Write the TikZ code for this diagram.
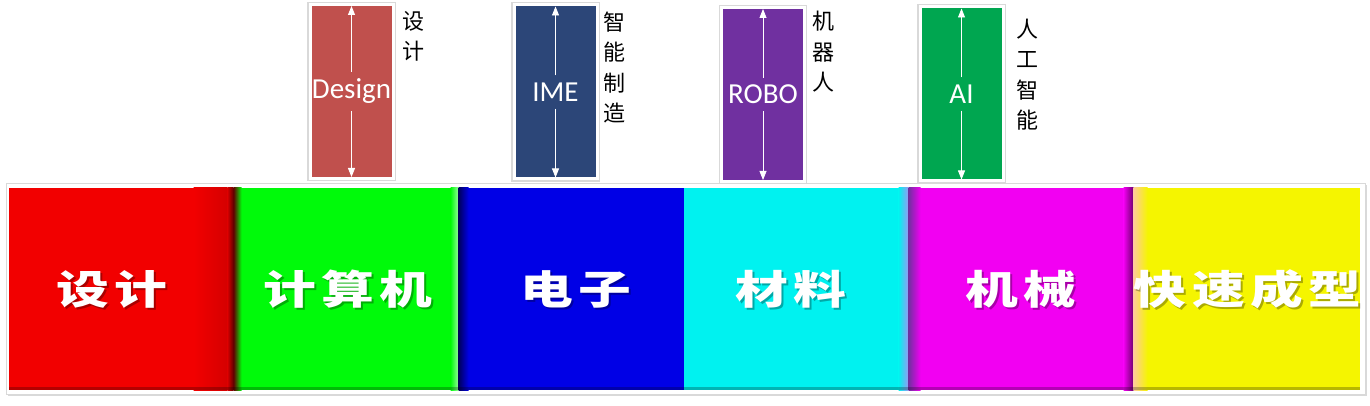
\documentclass[tikz,border=0pt]{standalone}
\usepackage{graphicx}
\usepackage{fontspec}
\setmainfont{Carlito}
\newfontfamily\sidefont{Noto Sans CJK SC}
\newfontfamily\barfont[LetterSpace=10]{Noto Sans CJK SC}
\usetikzlibrary{positioning,arrows.meta,shadows}

\definecolor{cred}{RGB}{242,0,0}
\definecolor{cgreen}{RGB}{0,250,10}
\definecolor{cblue}{RGB}{0,0,230}
\definecolor{ccyan}{RGB}{0,242,240}
\definecolor{cmagenta}{RGB}{242,0,242}
\definecolor{cyellow}{RGB}{245,245,0}
\definecolor{designred}{RGB}{192,80,77}
\definecolor{imeblue}{RGB}{44,70,120}
\definecolor{robopurple}{RGB}{112,48,160}
\definecolor{aigreen}{RGB}{0,166,80}

\newcommand{\widetext}[1]{\scalebox{1.32}[1]{#1}}

\tikzset{
	seg/.style={minimum width=225pt, minimum height=202pt, inner sep=0pt, outer sep=0pt},
	barlbl/.style={text=white, inner sep=0pt, font=\barfont\bfseries\fontsize{40}{40}\selectfont},
	barshade/.style={barlbl, text=black, opacity=0.3},
	topbox/.style={draw=white, line width=3pt, minimum width=83pt, minimum height=174pt, inner sep=0pt,
		preaction={draw=black!15, line width=5.5pt},
		drop shadow={opacity=0.25, shadow xshift=1.5pt, shadow yshift=-1.5pt}},
	boxlbl/.style={text=white, inner sep=7pt, font=\fontsize{29}{29}\selectfont},
	sidelbl/.style={align=center, inner sep=0pt, font=\sidefont\fontsize{22}{30.5}\selectfont},
	updown/.style={white, line width=0.8pt, shorten >=3pt, -{Triangle[length=9pt,width=7pt]}},
}

\begin{document}
\begin{tikzpicture}[x=1pt, y=-1pt]
	\useasboundingbox (0,0) rectangle (1370,406);

	% Bar frame
	\path[fill=white, draw=black!15, line width=1pt, drop shadow={opacity=0.3, shadow xshift=1.5pt, shadow yshift=-1.5pt}] (6,184) rectangle (1365,394);

	% Bar segments
	\node[seg, fill=cred] (sred) at (121,289) {};
	\node[seg, fill=cgreen, right=0pt of sred] (sgreen) {};
	\node[seg, fill=cblue, right=0pt of sgreen] (sblue) {};
	\node[seg, fill=ccyan, right=0pt of sblue] (scyan) {};
	\node[seg, fill=cmagenta, right=0pt of scyan] (smagenta) {};
	\node[seg, fill=cyellow, minimum width=226pt, right=0pt of smagenta] (syellow) {};

	% Blurred edges
	\shade[left color=cred, right color=cred!88!black] ([xshift=-40pt]sred.north east) rectangle ([xshift=-6pt]sred.south east);
	\shade[left color=cred!88!black, right color=cred!40!black] ([xshift=-6pt]sred.north east) rectangle (sred.south east);
	\shade[left color=cred!40!black, right color=cgreen] (sgreen.north west) rectangle ([xshift=8pt]sgreen.south west);
	\shade[left color=cgreen, right color=cgreen!40!white] ([xshift=-8pt]sgreen.north east) rectangle (sgreen.south east);
	\shade[left color=cblue!40!black, right color=cblue] (sblue.north west) rectangle ([xshift=10pt]sblue.south west);
	\shade[left color=ccyan, right color=cblue!40!white] ([xshift=-10pt]scyan.north east) rectangle (scyan.south east);
	\shade[left color=robopurple, right color=cmagenta] (smagenta.north west) rectangle ([xshift=12pt]smagenta.south west);
	\shade[left color=cmagenta, right color=cmagenta!45!black] ([xshift=-10pt]smagenta.north east) rectangle (smagenta.south east);
	\shade[left color=orange!40!white, right color=cyellow] (syellow.north west) rectangle ([xshift=14pt]syellow.south west);
	\fill[black, opacity=0.25] (sred.south west) rectangle ([yshift=3pt]syellow.south east);

	% Bar labels
	\node[barshade] (lred-s) at ([xshift=-7pt, yshift=-2pt]sred) {\widetext{设计}};
	\node[barlbl] (lred) at ([xshift=-9pt]sred) {\widetext{设计}};
	\node[barshade] (lgreen-s) at ([xshift=4pt, yshift=-2pt]sgreen) {\widetext{计算机}};
	\node[barlbl] (lgreen) at ([xshift=2pt]sgreen) {\widetext{计算机}};
	\node[barshade] (lblue-s) at ([xshift=7pt, yshift=-2pt]sblue) {\widetext{电子}};
	\node[barlbl] (lblue) at ([xshift=5pt]sblue) {\widetext{电子}};
	\node[barshade] (lcyan-s) at ([xshift=-3pt, yshift=-2pt]scyan) {\widetext{材料}};
	\node[barlbl] (lcyan) at ([xshift=-5pt]scyan) {\widetext{材料}};
	\node[barshade] (lmagenta-s) at ([xshift=2pt, yshift=-2pt]smagenta) {\widetext{机械}};
	\node[barlbl] (lmagenta) at ([xshift=0pt]smagenta) {\widetext{机械}};
	\node[barshade] (lyellow-s) at ([xshift=3pt, yshift=-2pt]syellow) {\widetext{快速成型}};
	\node[barlbl] (lyellow) at ([xshift=1pt]syellow) {\widetext{快速成型}};

	% Top boxes
	\node[topbox, fill=designred] (design) at (351.5,91.5) {};
	\node[topbox, fill=imeblue] (ime) at (555.5,92) {};
	\node[topbox, fill=robopurple] (robo) at (763,94.5) {};
	\node[topbox, fill=aigreen] (ai) at (961.5,94) {};

	\node[boxlbl] (designlbl) at (design) {Design};
	\node[boxlbl] (imelbl) at (ime) {IME};
	\node[boxlbl] (robolbl) at (robo) {ROBO};
	\node[boxlbl] (ailbl) at (ai) {AI};

	% Arrows
	\draw[updown] (designlbl.north) -- (design.north);
	\draw[updown] (designlbl.south) -- (design.south);
	\draw[updown] (imelbl.north) -- (ime.north);
	\draw[updown] (imelbl.south) -- (ime.south);
	\draw[updown] (robolbl.north) -- (robo.north);
	\draw[updown] (robolbl.south) -- (robo.south);
	\draw[updown] (ailbl.north) -- (ai.north);
	\draw[updown] (ailbl.south) -- (ai.south);

	% Side labels
	\node[sidelbl, right=8pt of design.north east, anchor=north west, yshift=-8pt] (designside) {设\\计};
	\node[sidelbl, right=5pt of ime.north east, anchor=north west, yshift=-8pt] (imeside) {智\\能\\制\\造};
	\node[sidelbl, right=6pt of robo.north east, anchor=north west, yshift=-5pt] (roboside) {机\\器\\人};
	\node[sidelbl, right=12pt of ai.north east, anchor=north west, yshift=-13pt] (aiside) {人\\工\\智\\能};
\end{tikzpicture}
\end{document}
